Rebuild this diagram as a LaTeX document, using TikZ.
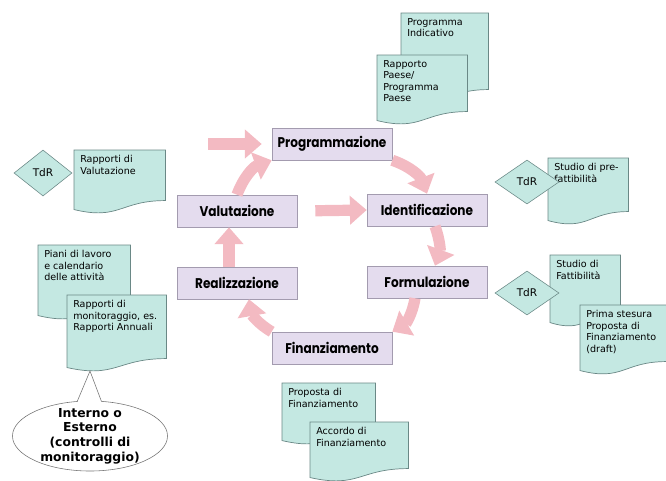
\documentclass[tikz,border=0pt]{standalone}
\usepackage{fontspec}
\usepackage{tikz}
\usetikzlibrary{arrows.meta,shapes.geometric,calc,backgrounds}

\setmainfont{DejaVu Sans}
\newfontfamily\phasefont{Poppins}[FakeStretch=0.86]
\newfontfamily\docfont{DejaVu Sans}

\definecolor{phasefill}{HTML}{E4DCEE}
\definecolor{phaseline}{HTML}{A39BAF}
\definecolor{docfill}{HTML}{C4E8E2}
\definecolor{docline}{HTML}{6A8886}
\definecolor{cyclepink}{HTML}{F3BAC2}

\newlength{\pxunit}
\setlength{\pxunit}{0.025cm}

% wavy document outline behind a doc node
\newcommand{\docframe}[1]{%
	\begin{pgfonlayer}{background}
		\draw[docedge] (#1.north west) -- (#1.north east) -- ($(#1.south east)+(0,-12)$)
			.. controls ($(#1.south)+(0,-12)$) and ($(#1.south)+(0,8)$) .. ($(#1.south west)+(0,-3)$) -- cycle;
	\end{pgfonlayer}}

\tikzset{
	phase/.style={draw=phaseline, fill=phasefill, minimum width=3cm, minimum height=0.8cm, inner sep=0pt,
		font={\phasefont\bfseries\fontsize{10}{12}\selectfont}},
	doc/.style 2 args={anchor=north west, inner xsep=6\pxunit, inner ysep=5\pxunit,
		font={\docfont\fontsize{6.8}{8.2}\selectfont},
		execute at begin node={\begin{minipage}[t][\dimexpr#2\pxunit-10\pxunit\relax][t]{\dimexpr#1\pxunit-12\pxunit\relax}\raggedright},
		execute at end node={\end{minipage}}},
	docedge/.style={draw=docline, fill=docfill, line width=0.5pt},
	tdr/.style={diamond, draw=docline, fill=docfill, minimum width=1.6cm, minimum height=1.1cm, inner sep=0pt,
		font={\docfont\fontsize{7.5}{9}\selectfont}},
	cyc/.style={draw=cyclepink, line width=0.28cm, -{Triangle[length=0.42cm,width=0.7cm]}},
	callout/.style={ellipse, draw=black!55, fill=white, minimum width=3.875cm, minimum height=1.75cm, inner sep=0pt},
	calltext/.style={align=center, font={\bfseries\fontsize{8.8}{10.4}\selectfont}},
	callline/.style={draw=black!55}
}

\begin{document}
\begin{tikzpicture}[x=0.025cm, y=-0.025cm]
	\useasboundingbox (0,0) rectangle (666,481);

	% cycle phases
	\node[phase] (prog) at (332,144) {Programmazione};
	\node[phase] (ident) at (427,210) {Identificazione};
	\node[phase] (form) at (427,282) {Formulazione};
	\node[phase] (finanz) at (332,348) {Finanziamento};
	\node[phase] (realiz) at (237,283) {Realizzazione};
	\node[phase] (valut) at (237,211) {Valutazione};

	\draw[cyc] (prog.south east) to[bend left=25] (ident.north);
	\draw[cyc] ([xshift=0.2cm]ident.south) to[bend left=20] ([xshift=0.2cm]form.north);
	\draw[cyc] ([xshift=-0.3cm]form.south) to[bend left=25] (finanz.north east);
	\draw[cyc] (finanz.north west) to[bend left=25] ([xshift=0.3cm]realiz.south);
	\draw[cyc] ([xshift=-0.2cm]realiz.north) -- ([xshift=-0.2cm]valut.south);
	\draw[cyc] (valut.north) to[bend left=25] (prog.south west);
	\coordinate (feed) at (208,144);
	\draw[cyc, shorten >=0.25cm] (feed) -- (prog.west);
	\draw[cyc, shorten <=0.45cm] (valut.east) -- (ident.west);

	% documents
	\node[doc={87}{88}] (progind) at (401,13) {Programma\\Indicativo};
	\docframe{progind}
	\node[doc={90}{68}] (paese) at (377,55) {Rapporto\\Paese/\\Programma\\Paese};
	\docframe{paese}

	\node[doc={91}{62}] (rapval) at (74,150) {Rapporti di\\Valutazione};
	\docframe{rapval}
	\node[tdr, minimum width=1.45cm, minimum height=1.15cm] (tdrval) at (43,173) {TdR};

	\node[doc={80}{65}] (prefatt) at (548,158) {Studio di pre-\\fattibilità};
	\docframe{prefatt}
	\node[tdr] (tdrpre) at (527,182) {TdR};

	\node[doc={70}{70}] (fatt) at (550,255) {Studio di\\Fattibilità};
	\docframe{fatt}
	\node[doc={86}{68}] (prima) at (580,305) {Prima stesura\\Proposta di\\Finanziamento\\(draft)};
	\docframe{prima}
	\node[tdr] (tdrfatt) at (527,293) {TdR};

	\node[doc={92}{73}] (piani) at (38,245) {Piani di lavoro\\e calendario\\delle attività};
	\docframe{piani}
	\node[doc={99}{75}] (monit) at (67,295) {Rapporti di\\monitoraggio, es.\\Rapporti Annuali};
	\docframe{monit}

	\node[doc={93}{60}] (propfin) at (282,383) {Proposta di\\Finanziamento};
	\docframe{propfin}
	\node[doc={98}{58}] (accordo) at (310,422) {Accordo di\\Finanziamento};
	\docframe{accordo}

	% callout
	\node[callout, label={[calltext]center:{Interno o\\Esterno\\(controlli di\\monitoraggio)}}] (intext) at (90,436) {};
	\coordinate (tip) at (90,371);
	\fill[white] ($(intext.110)+(0,1.5)$) -- (tip) -- ($(intext.72)+(0,1.5)$) -- cycle;
	\draw[callline] (intext.110) -- (tip) -- (intext.72);
\end{tikzpicture}
\end{document}
